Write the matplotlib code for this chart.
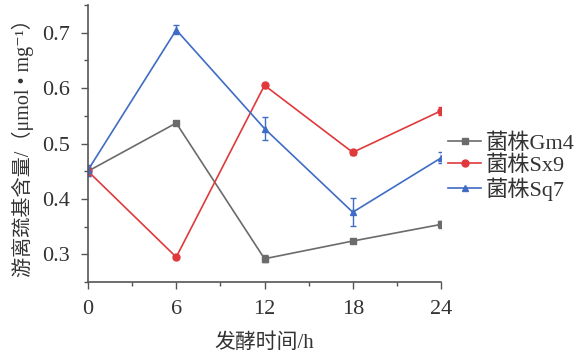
import matplotlib
matplotlib.use("Agg")
import matplotlib.pyplot as plt
from matplotlib.ticker import MultipleLocator

plt.rcParams['font.family'] = ['Liberation Serif', 'Noto Sans CJK SC', 'DejaVu Serif']

hours = [0, 6, 12, 18, 24]
gm4 = [0.450, 0.537, 0.292, 0.324, 0.354]
gm4_err = [0.006, 0.004, 0.006, 0.004, 0.007]
sx9 = [0.450, 0.295, 0.605, 0.484, 0.559]
sx9_err = [0.008, 0.004, 0.004, 0.004, 0.007]
sq7 = [0.452, 0.705, 0.527, 0.376, 0.474]
sq7_err = [0.010, 0.008, 0.020, 0.025, 0.010]
labels = ['菌株Gm4', '菌株Sx9', '菌株Sq7']
colors = ['#6b6b6b', '#e0393b', '#3f6cc4']
markers = ['s', 'o', '^']

fig = plt.figure(figsize=(5.75, 3.57), dpi=100)
ax = fig.add_axes([0.153, 0.21, 0.614, 0.776])

handles = []
for y, e, lab, c, m in zip([gm4, sx9, sq7], [gm4_err, sx9_err, sq7_err], labels, colors, markers):
    ax.errorbar(hours, y, yerr=e, color=c, marker=m, markersize=5, linewidth=1.2,
                capsize=2.5, elinewidth=1.0)
    h, = ax.plot([], [], color=c, marker=m, markersize=5, linewidth=1.2, label=lab)
    handles.append(h)

ax.set_xlim(0, 24)
ax.set_ylim(0.25, 0.75)
ax.set_xticks(hours)
ax.xaxis.set_minor_locator(MultipleLocator(3))
ax.set_yticks([0.3, 0.4, 0.5, 0.6, 0.7])
ax.yaxis.set_minor_locator(MultipleLocator(0.05))
ax.spines['top'].set_visible(False)
ax.spines['right'].set_visible(False)
for s in ['left', 'bottom']:
    ax.spines[s].set_color('#555555')
    ax.spines[s].set_linewidth(1.2)
ax.tick_params(which='both', direction='out', color='#555555', width=1.0)
ax.tick_params(which='major', length=5, labelsize=16, labelcolor='#333333', pad=8)
ax.tick_params(which='minor', length=3)
ax.set_xlabel('发酵时间/h', fontsize=15, color='#333333', labelpad=10)
ax.set_ylabel('游离巯基含量/（μmol • mg⁻¹）', fontsize=14.5, color='#333333', labelpad=6)

leg = fig.legend(handles=handles, loc='upper left', bbox_to_anchor=(448 / 575, 1 - 133 / 357),
                 frameon=False, fontsize=16, handlelength=1.5, handletextpad=0.2,
                 labelspacing=0.08, borderaxespad=0, borderpad=0)
for t in leg.get_texts():
    t.set_color('#333333')

fig.savefig('out.png', dpi=100)
